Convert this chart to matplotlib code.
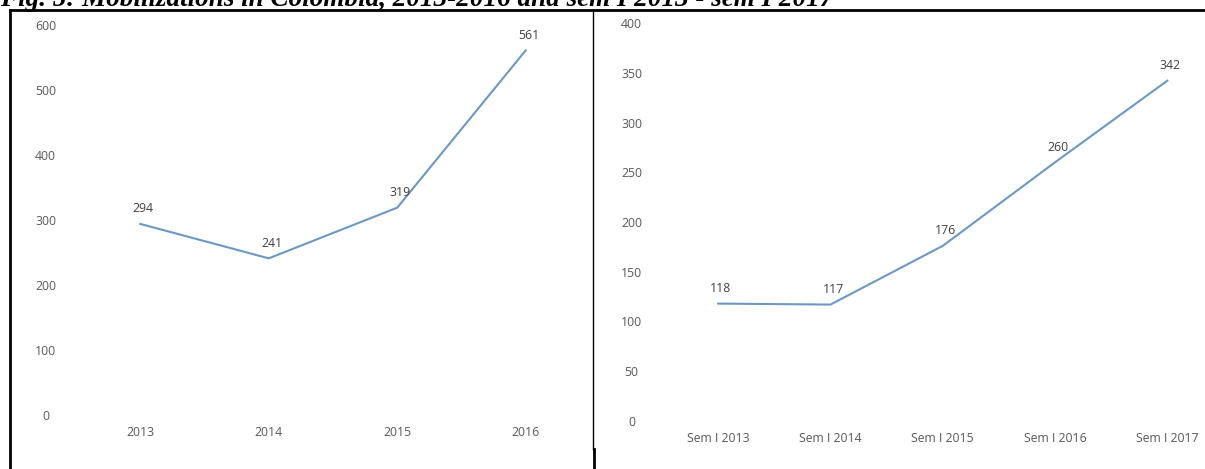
import matplotlib.pyplot as plt
from matplotlib.lines import Line2D

anos = ['2013', '2014', '2015', '2016']
mobilizacoes = [294, 241, 319, 561]

semestres = ['Sem I 2013', 'Sem I 2014', 'Sem I 2015', 'Sem I 2016', 'Sem I 2017']
mobilizacoes_sem = [118, 117, 176, 260, 342]

W, H = 1205, 469
fig = plt.figure(figsize=(W / 100, H / 100), dpi=100)
plt.rcParams['font.family'] = ['Open Sans', 'DejaVu Sans']

cor_linha = '#6c98c6'
cor_texto = '#595959'


def painel(rect, cats, vals, ymax, ystep, xmax):
    ax = fig.add_axes(rect)
    x = list(range(len(cats)))
    ax.plot(x, vals, color=cor_linha, lw=1.5)
    for xi, v in zip(x, vals):
        ax.annotate(str(v), (xi, v), xytext=(2, 11), textcoords='offset points',
                    ha='center', va='center', fontsize=8.8, color='#404040')
    ax.set_xticks(x)
    ax.set_xticklabels(cats)
    ax.set_yticks(range(0, ymax + 1, ystep))
    ax.set_xlim(-0.5, xmax)
    ax.set_ylim(0, ymax)
    ax.tick_params(length=0, labelsize=8.8, labelcolor=cor_texto)
    ax.tick_params(axis='y', pad=22)
    ax.tick_params(axis='x', pad=8)
    for t in ax.get_yticklabels():
        t.set_horizontalalignment('center')
    for s in ax.spines.values():
        s.set_visible(False)
    return ax


# posicoes em pixels -> fracao da figura
def r(x0, x1, ytop, ybot):
    return [x0 / W, 1 - ybot / H, (x1 - x0) / W, (ybot - ytop) / H]


painel(r(76, 590, 25, 415), anos, mobilizacoes, 600, 100, 3.5)
painel(r(662, 1201, 23, 421), semestres, mobilizacoes_sem, 400, 50, 4.3)

# moldura da tabela
lw = 2
fig.add_artist(Line2D([10 / W, 1], [1 - 10 / H] * 2, color='black', lw=lw))
fig.add_artist(Line2D([10 / W] * 2, [0, 1 - 10 / H], color='black', lw=lw))
fig.add_artist(Line2D([593 / W] * 2, [1 - 449 / H, 1 - 10 / H], color='black', lw=1))
fig.add_artist(Line2D([594 / W] * 2, [0, 1 - 449 / H], color='black', lw=lw))

fig.text(0, 1 - 6 / H, 'Fig. 5: Mobilizations in Colombia, 2013-2016 and sem I 2013 - sem I 2017',
         fontfamily='Liberation Serif', fontweight='bold', fontstyle='italic',
         fontsize=19.5, va='baseline', ha='left')

plt.savefig('out.png', dpi=100)
